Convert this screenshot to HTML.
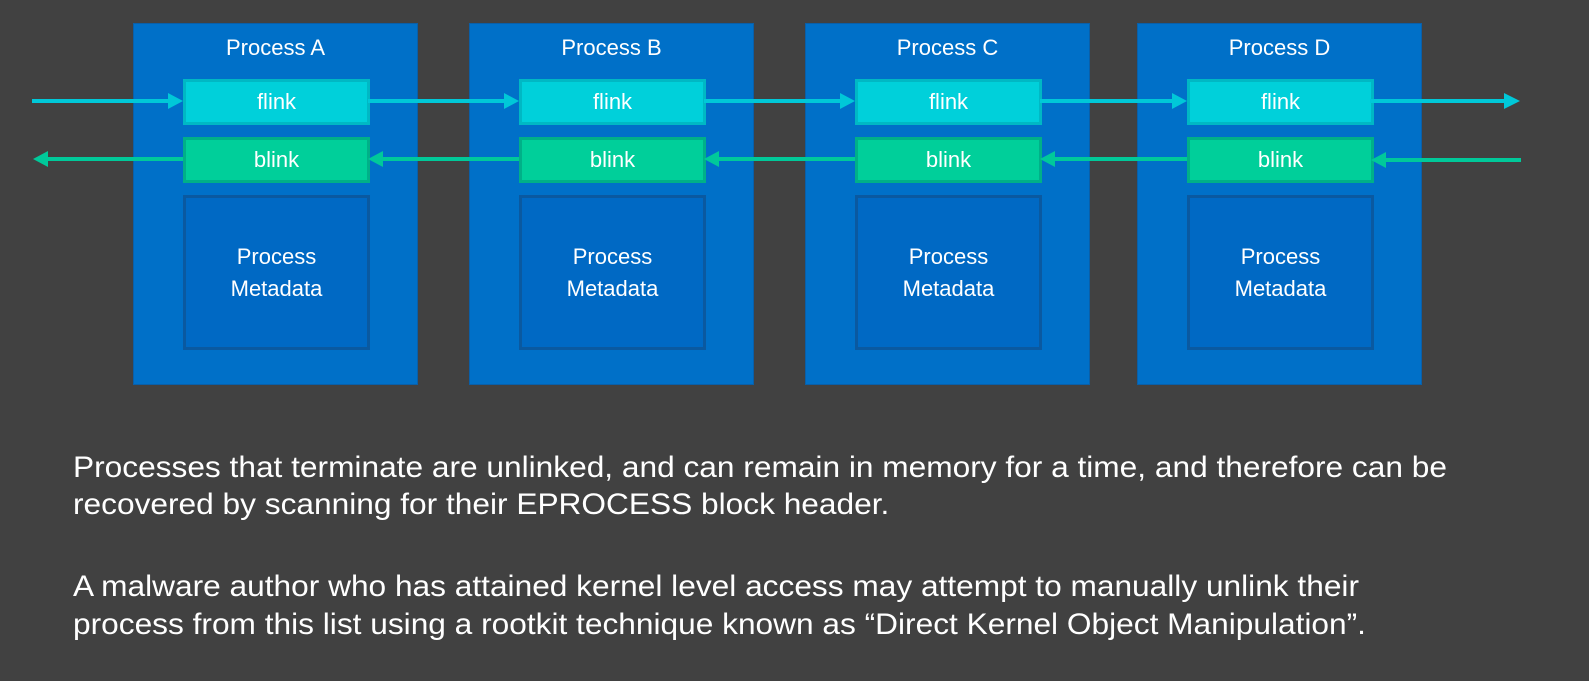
<!DOCTYPE html>
<html><head><meta charset="utf-8"><style>
body{margin:0;width:1589px;height:681px;background:#414141;position:relative;overflow:hidden;font-family:"Liberation Sans",sans-serif;}
.box{position:absolute;top:23px;width:283px;height:360px;background:#0070c8;border:1px solid #0a5fa8;}
.title{position:absolute;top:11px;left:0;right:0;text-align:center;color:#fff;font-size:22px;}
.f,.b,.m{position:absolute;left:49px;width:181px;color:#fff;text-align:center;font-size:22px;}
.f{top:55px;height:40px;line-height:40px;background:#00d0da;border:3px solid #00b8c4;}
.b{top:113px;height:40px;line-height:40px;background:#00cf9a;border:3px solid #00b088;}
.m{top:171px;height:149px;background:#0069c4;border:3px solid #0a59a0;display:flex;align-items:center;justify-content:center;line-height:32px;}
.txt{position:absolute;left:73px;color:#fff;font-size:30px;white-space:nowrap;transform-origin:0 0;transform:scaleX(1.055);}
svg{position:absolute;left:0;top:0;}
</style></head><body>
<div class="box" style="left:133px"><div class="title">Process A</div><div class="f">flink</div><div class="b">blink</div><div class="m">Process<br>Metadata</div></div>
<div class="box" style="left:469px"><div class="title">Process B</div><div class="f">flink</div><div class="b">blink</div><div class="m">Process<br>Metadata</div></div>
<div class="box" style="left:805px"><div class="title">Process C</div><div class="f">flink</div><div class="b">blink</div><div class="m">Process<br>Metadata</div></div>
<div class="box" style="left:1137px"><div class="title">Process D</div><div class="f">flink</div><div class="b">blink</div><div class="m">Process<br>Metadata</div></div>
<svg width="1589" height="681">
<g stroke="#00c8d8" stroke-width="4" fill="#00c8d8">
<line x1="32" y1="101" x2="172" y2="101"/><polygon points="168,93 183,101 168,109" stroke="none"/>
<line x1="368" y1="101" x2="508" y2="101"/><polygon points="504,93 519,101 504,109" stroke="none"/>
<line x1="704" y1="101" x2="844" y2="101"/><polygon points="840,93 855,101 840,109" stroke="none"/>
<line x1="1040" y1="101" x2="1176" y2="101"/><polygon points="1172,93 1187,101 1172,109" stroke="none"/>
<line x1="1370" y1="101" x2="1508" y2="101"/><polygon points="1504,93 1520,101 1504,109" stroke="none"/>
</g>
<g stroke="#00c99a" stroke-width="4" fill="#00c99a">
<line x1="45" y1="159" x2="183" y2="159"/><polygon points="48,151 33,159 48,167" stroke="none"/>
<line x1="380" y1="159" x2="519" y2="159"/><polygon points="383,151 368,159 383,167" stroke="none"/>
<line x1="716" y1="159" x2="855" y2="159"/><polygon points="719,151 704,159 719,167" stroke="none"/>
<line x1="1052" y1="159" x2="1187" y2="159"/><polygon points="1055,151 1040,159 1055,167" stroke="none"/>
<line x1="1384" y1="160" x2="1521" y2="160"/><polygon points="1386,152 1371,160 1386,168" stroke="none"/>
</g>
</svg>
<div class="txt" style="top:451px">Processes that terminate are unlinked, and can remain in memory for a time, and therefore can be</div>
<div class="txt" style="top:488px">recovered by scanning for their EPROCESS block header.</div>
<div class="txt" style="top:570px">A malware author who has attained kernel level access may attempt to manually unlink their</div>
<div class="txt" style="top:608px">process from this list using a rootkit technique known as “Direct Kernel Object Manipulation”.</div>
</body></html>
